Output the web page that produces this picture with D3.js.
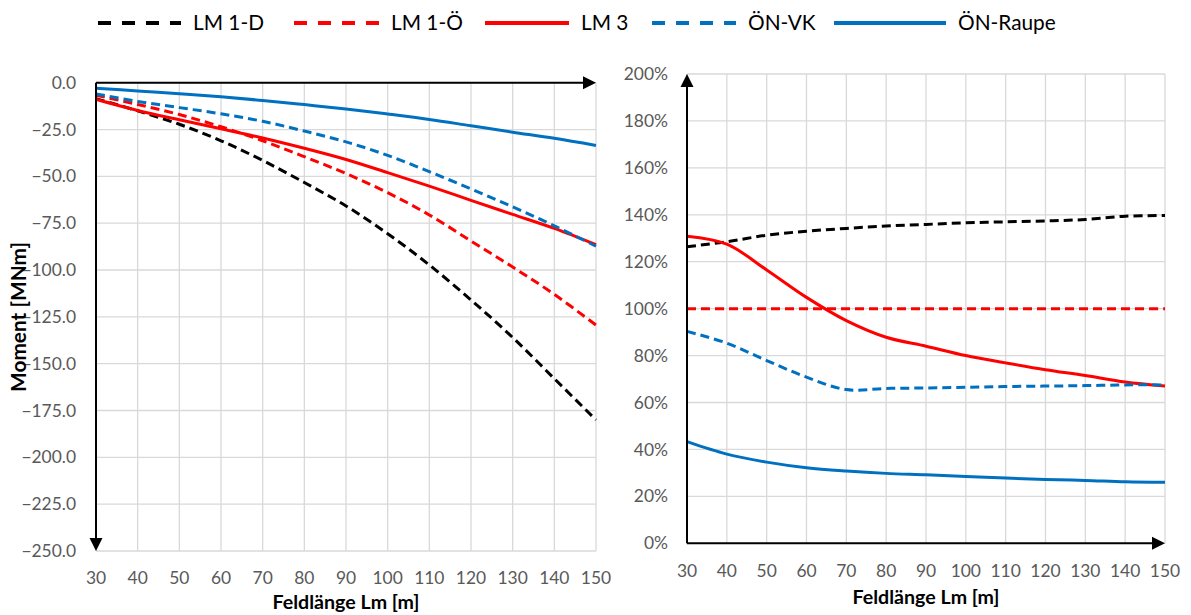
<!DOCTYPE html>
<html><head><meta charset="utf-8">
<script src="https://cdn.jsdelivr.net/npm/d3@7"></script>
<style>
body{margin:0;background:#fff;}
text{font-family:Lato,"Open Sans",sans-serif;}
</style></head>
<body><svg id="c" width="1191" height="615"></svg>
<script>
const lengths = [30,40,50,60,70,80,90,100,110,120,130,140,150];
const seriesNames = ["LM 1-D","LM 1-Ö","LM 3","ÖN-VK","ÖN-Raupe"];
// Left: Moment [MNm]
const momLM1D   = [-8.5,-15.0,-22.2,-31.0,-41.5,-53.3,-65.8,-80.6,-97.3,-116.0,-136.0,-158.0,-180.0];
const momLM1O   = [-6.7,-11.6,-17.0,-23.5,-31.0,-39.5,-48.5,-58.7,-70.6,-84.5,-98.4,-113.0,-129.4];
const momLM3    = [-8.8,-14.8,-19.8,-24.6,-29.5,-35.0,-41.0,-48.0,-55.2,-62.8,-70.3,-77.8,-86.5];
const momONVK   = [-6.0,-10.0,-13.3,-16.6,-20.6,-25.8,-31.6,-38.8,-47.5,-56.7,-66.3,-76.4,-87.3];
const momONRaupe= [-2.9,-4.4,-5.9,-7.5,-9.5,-11.7,-14.0,-16.7,-19.6,-23.0,-26.4,-29.7,-33.5];
// Right: ratio to LM 1-Ö [%]
const pctLM1D   = [126.4,128.5,131.3,133.0,134.2,135.2,135.9,136.6,137.0,137.4,138.0,139.4,139.7];
const pctLM1O   = [100,100,100,100,100,100,100,100,100,100,100,100,100];
const pctLM3    = [130.9,127.5,116.5,104.8,94.9,87.8,84.0,80.0,76.9,74.0,71.5,68.7,67.0];
const pctONVK   = [90.3,85.3,77.9,70.8,65.5,66.0,66.2,66.5,66.8,67.0,67.2,67.5,67.5];
const pctONRaupe= [43.3,38.0,34.6,32.2,30.8,29.8,29.2,28.5,27.8,27.2,26.8,26.2,26.0];
const leftTicks = [0,-25,-50,-75,-100,-125,-150,-175,-200,-225,-250];
const rightTicks = [0,20,40,60,80,100,120,140,160,180,200];
const xTicks = lengths;

const styles = [
  {color:"#000000", dash:"9,5", ldash:"13,11"},
  {color:"#FF0000", dash:"9,5", ldash:"13,11"},
  {color:"#FF0000", dash:null, ldash:null},
  {color:"#0070C0", dash:"9,5", ldash:"13,11"},
  {color:"#0070C0", dash:null, ldash:null}
];
const leftData = [momLM1D,momLM1O,momLM3,momONVK,momONRaupe];
const rightData = [pctLM1D,pctLM1O,pctLM3,pctONVK,pctONRaupe];

const svg = d3.select("#c");
const grid = "#d9d9d9", tickCol = "#595959";

function fitSize(sample, target, weight){
  const t = svg.append("text").attr("font-size",20).attr("font-weight",weight||"normal").text(sample);
  const w = t.node().getComputedTextLength();
  t.remove();
  return 20*target/w;
}
const fsTick = fitSize("-250.0",51);
const fsTitle = fitSize("Feldlänge Lm [m]",147,"bold");
const fsYTitle = fitSize("Moment [MNm]",150,"bold");
const fsLeg = fitSize("LM 1-D",71);

function arrow(g, x, y, dir){
  const L=13, W=6.5;
  let pts;
  if(dir==="right") pts=[[x,y],[x-L,y-W],[x-L,y+W]];
  if(dir==="down") pts=[[x,y],[x-W,y-L],[x+W,y-L]];
  if(dir==="up") pts=[[x,y],[x-W,y+L],[x+W,y+L]];
  g.append("path").attr("d","M"+pts.map(p=>p.join(",")).join("L")+"Z").attr("fill","#000");
}

function panel(opts){
  const {x0,x1,y0,y1,domainY,ticksY,fmt,data,labelRight,xLabelY,titleY} = opts;
  const x = d3.scaleLinear().domain([30,150]).range([x0,x1]);
  const y = d3.scaleLinear().domain(domainY).range([y1,y0]);
  const g = svg.append("g");
  g.selectAll(".vg").data(xTicks).join("line")
    .attr("x1",d=>x(d)).attr("x2",d=>x(d)).attr("y1",y.range()[0]).attr("y2",y.range()[1])
    .attr("stroke",grid).attr("stroke-width",1.3);
  g.selectAll(".hg").data(ticksY).join("line")
    .attr("x1",x0).attr("x2",x1).attr("y1",d=>y(d)).attr("y2",d=>y(d))
    .attr("stroke",grid).attr("stroke-width",1.3);
  g.selectAll(".yl").data(ticksY).join("text")
    .attr("x",labelRight).attr("y",d=>y(d)).attr("dy","0.35em").attr("text-anchor","end")
    .attr("font-size",fsTick).attr("fill",tickCol).text(fmt);
  g.selectAll(".xl").data(xTicks).join("text")
    .attr("x",d=>x(d)).attr("y",xLabelY).attr("dy","0.35em").attr("text-anchor","middle")
    .attr("font-size",fsTick).attr("fill",tickCol).text(d=>d);
  g.append("text").attr("x",(x0+x1)/2).attr("y",titleY).attr("dy","0.35em").attr("text-anchor","middle")
    .attr("font-size",fsTitle).attr("font-weight","bold").attr("fill","#000").text("Feldlänge Lm [m]");
  const line = d3.line().x((d,i)=>x(lengths[i])).y(d=>y(d)).curve(d3.curveCatmullRom.alpha(0.5));
  data.forEach((arr,k)=>{
    const p = g.append("path").attr("d",line(arr)).attr("fill","none")
      .attr("stroke",styles[k].color).attr("stroke-width",3);
    if(styles[k].dash) p.attr("stroke-dasharray",styles[k].dash);
  });
  return {x,y,g};
}

// Left panel
const L = panel({x0:96,x1:596,y0:82.7,y1:551,domainY:[-250,0],ticksY:leftTicks,
  fmt:d=>d3.format(".1f")(d),data:leftData,labelRight:76,xLabelY:578,titleY:602});
L.g.append("line").attr("x1",L.x(30)).attr("x2",L.x(150)-6).attr("y1",L.y(0)).attr("y2",L.y(0))
  .attr("stroke","#000").attr("stroke-width",2);
arrow(L.g,L.x(150),L.y(0),"right");
L.g.append("line").attr("x1",L.x(30)).attr("x2",L.x(30)).attr("y1",L.y(0)).attr("y2",L.y(-250)-6)
  .attr("stroke","#000").attr("stroke-width",2);
arrow(L.g,L.x(30),L.y(-250),"down");
svg.append("text").attr("transform","translate(19,317) rotate(-90)").attr("text-anchor","middle")
  .attr("dy","0.35em").attr("font-size",fsYTitle).attr("font-weight","bold").text("Moment [MNm]");

// Right panel
const R = panel({x0:687,x1:1165,y0:74,y1:543.3,domainY:[0,200],ticksY:rightTicks,
  fmt:d=>d+"%",data:rightData,labelRight:668,xLabelY:571,titleY:597});
R.g.append("line").attr("x1",R.x(30)).attr("x2",R.x(30)).attr("y1",R.y(0)).attr("y2",R.y(200)+6)
  .attr("stroke","#000").attr("stroke-width",2);
arrow(R.g,R.x(30),R.y(200),"up");
R.g.append("line").attr("x1",R.x(30)).attr("x2",R.x(150)-6).attr("y1",R.y(0)).attr("y2",R.y(0))
  .attr("stroke","#000").attr("stroke-width",2);
arrow(R.g,R.x(150),R.y(0),"right");

// Legend
const legX = [98,294,485,652,834];
const legW = [83,85,84,84,112];
const legY = 23;
const leg = svg.append("g");
seriesNames.forEach((n,k)=>{
  const l = leg.append("line").attr("x1",legX[k]).attr("x2",legX[k]+legW[k]).attr("y1",legY).attr("y2",legY)
    .attr("stroke",styles[k].color).attr("stroke-width",4);
  if(styles[k].ldash) l.attr("stroke-dasharray",styles[k].ldash);
  leg.append("text").attr("x",legX[k]+legW[k]+12).attr("y",legY).attr("dy","0.35em")
    .attr("font-size",fsLeg).attr("fill","#000").text(n);
});
</script></body></html>
